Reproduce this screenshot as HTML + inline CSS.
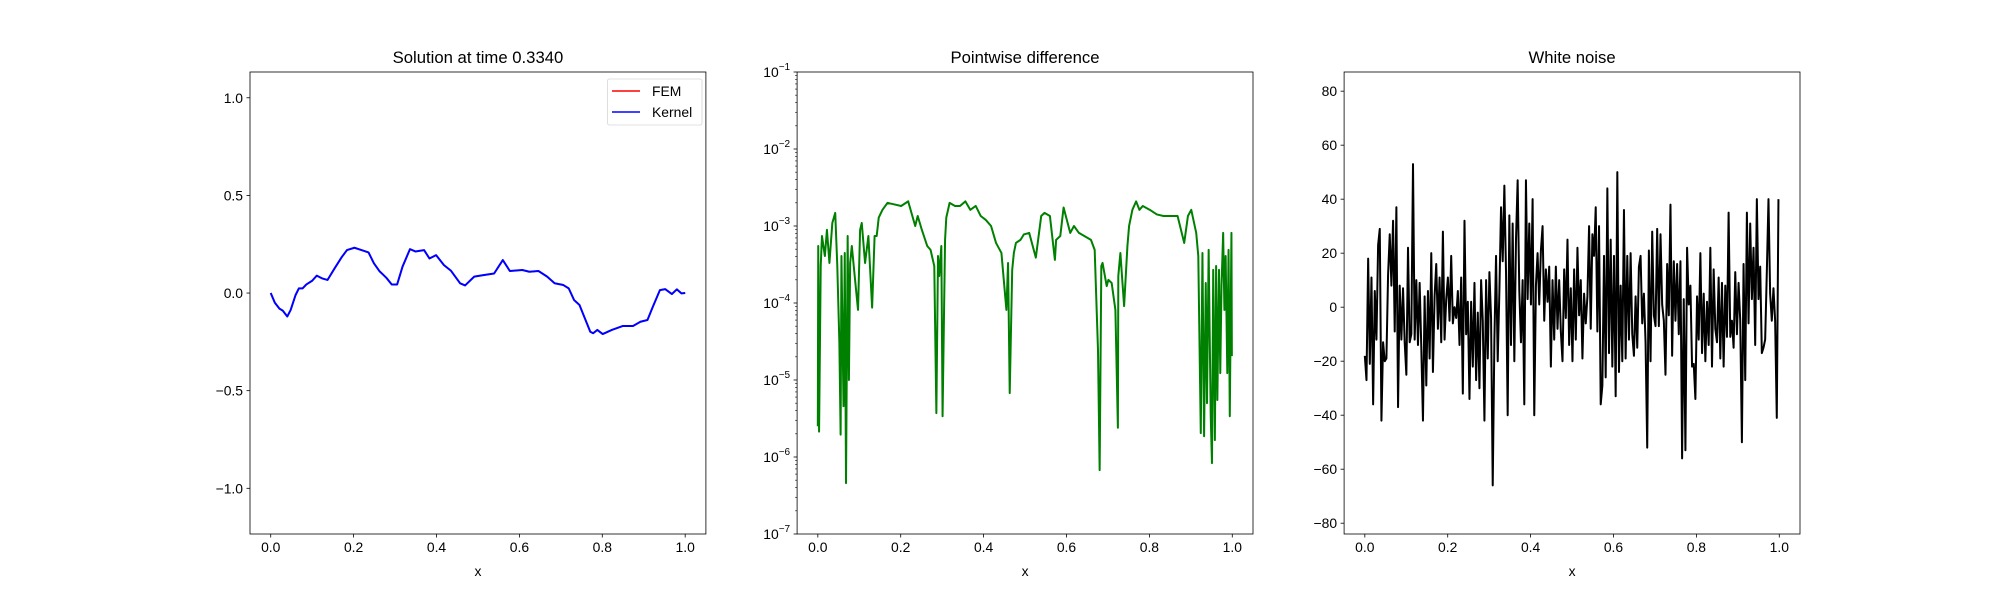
<!DOCTYPE html>
<html><head><meta charset="utf-8"><style>
body{margin:0;background:#fff}
svg text{font-family:"Liberation Sans","DejaVu Sans",sans-serif;fill:#000}
</style></head><body>
<svg id="fig" width="2000" height="600" xmlns="http://www.w3.org/2000/svg"></svg>
<script>
// Panel 1 data
const solX=[0,.01,.021,.029,.04,.048,.06,.068,.077,.086,.1,.111,.124,.137,.154,.171,.184,.202,.219,.236,.249,.262,.279,.292,.305,.318,.336,.349,.37,.383,.399,.418,.435,.457,.469,.491,.513,.539,.56,.577,.607,.624,.646,.667,.685,.706,.719,.732,.745,.758,.771,.778,.788,.801,.823,.849,.874,.892,.909,.922,.939,.952,.968,.98,.991,1.0];
const solY=[0,-.05,-.08,-.09,-.12,-.087,-.01,.024,.024,.044,.063,.089,.075,.067,.126,.183,.22,.232,.22,.208,.152,.113,.078,.044,.044,.135,.225,.213,.22,.177,.194,.143,.114,.05,.039,.084,.092,.1,.169,.113,.118,.109,.113,.084,.05,.041,.024,-.036,-.061,-.13,-.198,-.206,-.189,-.21,-.189,-.169,-.169,-.147,-.138,-.07,.015,.02,-.005,.019,-.002,0];
// Panel 2 data (log10 of difference)
const diffX=[0,.001,.003,.007,.010,.017,.022,.028,.035,.042,.047,.052,.055,.057,.062,.065,.068,.072,.075,.078,.082,.089,.097,.102,.106,.114,.122,.131,.137,.142,.147,.156,.168,.185,.201,.218,.235,.241,.251,.264,.272,.281,.286,.290,.293,.298,.301,.307,.310,.318,.331,.343,.356,.368,.381,.393,.405,.418,.430,.443,.455,.459,.463,.469,.473,.478,.489,.497,.510,.526,.539,.547,.560,.572,.575,.585,.593,.609,.618,.630,.643,.659,.668,.676,.680,.684,.687,.697,.701,.709,.718,.724,.725,.730,.739,.747,.751,.759,.768,.776,.784,.801,.818,.834,.851,.868,.884,.893,.901,.913,.918,.924,.928,.932,.936,.939,.943,.948,.951,.954,.958,.961,.964,.968,.971,.974,.978,.981,.984,.988,.991,.994,.998,.999,1.0];
const diffLog=[-5.60,-3.26,-5.67,-3.52,-3.13,-3.39,-3.05,-3.48,-2.96,-2.83,-3.52,-4.52,-5.71,-3.39,-5.34,-3.35,-6.34,-3.13,-5.0,-3.48,-3.26,-3.65,-4.09,-3.05,-2.96,-3.48,-3.13,-4.06,-3.13,-3.13,-2.89,-2.79,-2.70,-2.72,-2.74,-2.68,-3.0,-2.87,-3.05,-3.26,-3.31,-3.52,-5.43,-3.39,-3.65,-3.26,-5.47,-3.18,-2.89,-2.70,-2.74,-2.74,-2.68,-2.79,-2.74,-2.87,-2.92,-3.0,-3.22,-3.35,-4.09,-3.48,-5.17,-3.57,-3.35,-3.22,-3.18,-3.11,-3.09,-3.41,-2.87,-2.83,-2.87,-3.44,-3.18,-3.13,-2.76,-3.09,-3.0,-3.09,-3.13,-3.18,-3.31,-4.61,-6.17,-3.52,-3.48,-3.78,-3.70,-3.74,-4.09,-5.62,-3.65,-3.35,-4.04,-3.26,-3.0,-2.79,-2.68,-2.79,-2.74,-2.79,-2.85,-2.87,-2.87,-2.87,-3.22,-2.87,-2.79,-3.09,-3.39,-5.69,-3.35,-5.73,-3.74,-5.30,-3.31,-5.47,-6.08,-3.57,-5.78,-3.52,-5.26,-3.57,-4.91,-3.78,-3.09,-4.09,-3.39,-4.91,-3.31,-5.47,-3.09,-4.69];
// Panel 3 data (white noise, evenly spaced on [0, 0.998])
const noiseY=[-18,-27,18,-21,11,-36,6,-12,23,29,
-42,-13,-20,-19,12,27,8,32,-9,37,
-37,8,-12,7,-13,-25,22,-13,-10,53,
-12,10,-14,9,-15,-42,4,-29,6,-19,
20,-24,4,16,-8,11,-13,28,-12,3,
11,-5,19,-6,0,-4,6,-14,11,-32,
32,-10,2,-34,2,-22,9,-27,-2,-30,
10,-5,-42,10,-19,13,-4,-66,-12,19,
-20,6,37,17,45,13,-40,34,-14,31,
-20,25,47,6,-13,10,-36,47,3,31,
1,40,-40,8,20,1,21,30,-5,14,
2,15,-22,10,-12,15,-8,10,-9,-20,
14,-4,25,-14,7,-20,14,-12,22,-3,
10,-19,5,-6,4,30,-8,27,19,37,
-9,30,-36,-29,19,-26,44,-17,25,-22,
19,-33,50,-24,8,-20,36,-19,19,-12,
20,-10,-18,4,-15,15,19,-6,5,-13,
-52,21,-20,28,-3,-7,29,-7,27,1,
-5,-25,16,-3,38,-18,17,-5,16,-10,
17,-56,3,-53,22,1,8,-22,-21,-34,
4,-12,20,-17,5,-20,2,-14,22,-22,
14,-8,-13,11,-19,9,-22,8,-11,35,
-11,-5,-15,13,-10,9,-5,-50,16,-27,
35,-6,31,3,22,-14,40,3,15,-17,
-15,-12,13,40,5,-5,7,-5,-41,40];
const xTicks=[0,0.2,0.4,0.6,0.8,1.0];
const xTickLabels=["0.0","0.2","0.4","0.6","0.8","1.0"];
const solTicks=[1.0,0.5,0,-0.5,-1.0];
const solTickLabels=["1.0","0.5","0.0","\u22120.5","\u22121.0"];
const diffTicks=[-1,-2,-3,-4,-5,-6,-7];
const noiseTicks=[80,60,40,20,0,-20,-40,-60,-80];
const noiseTickLabels=["80","60","40","20","0","\u221220","\u221240","\u221260","\u221280"];

const NS="http://www.w3.org/2000/svg";
const svg=document.getElementById('fig');
function mk(tag,attrs,parent){const e=document.createElementNS(NS,tag);for(const k in attrs)e.setAttribute(k,attrs[k]);(parent||svg).appendChild(e);return e;}
const T=72,B=534,W=455.9;
const lefts=[250,797.1,1344.1];
function xAxis(L){return v=>L+(v+0.05)/1.1*W;}
function linY(lo,hi){return v=>B-(v-lo)/(hi-lo)*(B-T);}
const ySol=linY(-1.234,1.132);
const yDiffLog=linY(-7,-1);
const yDiff=v=>yDiffLog(Math.log10(v));
const yNoise=linY(-84,87.1);

function panel(i,title,name){
  const g=mk('g',{});
  
  
  const L=lefts[i];
  const t=mk('text',{x:L+W/2,y:T-9,'text-anchor':'middle','font-size':16.7},g);t.textContent=title;
  
  const xl=mk('text',{x:L+W/2,y:576,'text-anchor':'middle','font-size':13.9},g);xl.textContent='x';
  
  const X=xAxis(L);
  xTicks.forEach((v,k)=>{
    const p=X(v);
    const tk=mk('line',{x1:p,x2:p,y1:B,y2:B+3.5,stroke:'#000','stroke-width':0.8},g);
    
    const tl=mk('text',{x:p,y:B+18,'text-anchor':'middle','font-size':13.9},g);tl.textContent=xTickLabels[k];
    
  });
  return {g,L,X};
}
function frame(g,L){const r=mk('rect',{x:L,y:T,width:W,height:B-T,fill:'none',stroke:'#000','stroke-width':0.8},g);
  }
function yTick(g,L,p,label){
  const tk=mk('line',{x1:L-3.5,x2:L,y1:p,y2:p,stroke:'#000','stroke-width':0.8},g);
  
  const tl=mk('text',{x:L-7,y:p+5,'text-anchor':'end','font-size':13.9},g);
  if(typeof label==='string')tl.textContent=label;else label(tl);
  
}
function poly(g,xs,ys,color,w,name){
  const n=Math.min(xs.length,ys.length);
  const arr=[];
  for(let k=0;k<n;k++)arr.push(xs[k].toFixed(2)+','+ys[k].toFixed(2));
  const p=mk('polyline',{points:arr.join(' '),fill:'none',stroke:color,'stroke-width':w,'stroke-linejoin':'round'},g);
  
}

// Panel 1
{const {g,L,X}=panel(0,'Solution at time 0.3340','solution-panel');
 solTicks.forEach((v,k)=>yTick(g,L,ySol(v),solTickLabels[k]));
 poly(g,solX.map(X),solY.map(ySol),'#ff0000',1.5,'fem-line');
 poly(g,solX.map(X),solY.map(ySol),'#0000ff',2,'kernel-line');
 frame(g,L);
 const lg=mk('g',{},g);
 
 mk('rect',{x:607.5,y:79,width:94.5,height:46,rx:2,fill:'#fff',stroke:'#d6d6d6','stroke-width':0.8},lg);
 mk('line',{x1:612,x2:640,y1:91,y2:91,stroke:'#ff0000','stroke-width':1.5},lg);
 mk('line',{x1:612,x2:640,y1:112,y2:112,stroke:'#0000ff','stroke-width':1.5},lg);
 const t1=mk('text',{x:652,y:96,'font-size':13.9},lg);t1.textContent='FEM';
 
 const t2=mk('text',{x:652,y:117,'font-size':13.9},lg);t2.textContent='Kernel';
 
}
// Panel 2
{const {g,L,X}=panel(1,'Pointwise difference','difference-panel');
 diffTicks.forEach(e=>{
   yTick(g,L,yDiffLog(e),tl=>{
     const a=mk('tspan',{},tl);a.textContent='10';
     const b=mk('tspan',{dy:-7,'font-size':10},tl);b.textContent='\u2212'+(-e);
   });
 });
 for(let e=-7;e<-1;e++)for(let m=2;m<10;m++){
   const p=yDiff(m*Math.pow(10,e));
   const mt=mk('line',{x1:L-2,x2:L,y1:p,y2:p,stroke:'#000','stroke-width':0.6},g);
   
 }
 poly(g,diffX.map(X),diffLog.map(v=>yDiff(Math.pow(10,v))),'#008000',2,'difference-line');
 frame(g,L);
}
// Panel 3
{const {g,L,X}=panel(2,'White noise','noise-panel');
 noiseTicks.forEach((v,k)=>yTick(g,L,yNoise(v),noiseTickLabels[k]));
 const n=noiseY.length;
 const xs=noiseY.map((v,k)=>X(k*0.998/(n-1)));
 poly(g,xs,noiseY.map(yNoise),'#000000',2,'noise-line');
 frame(g,L);
}
</script>
</body></html>
